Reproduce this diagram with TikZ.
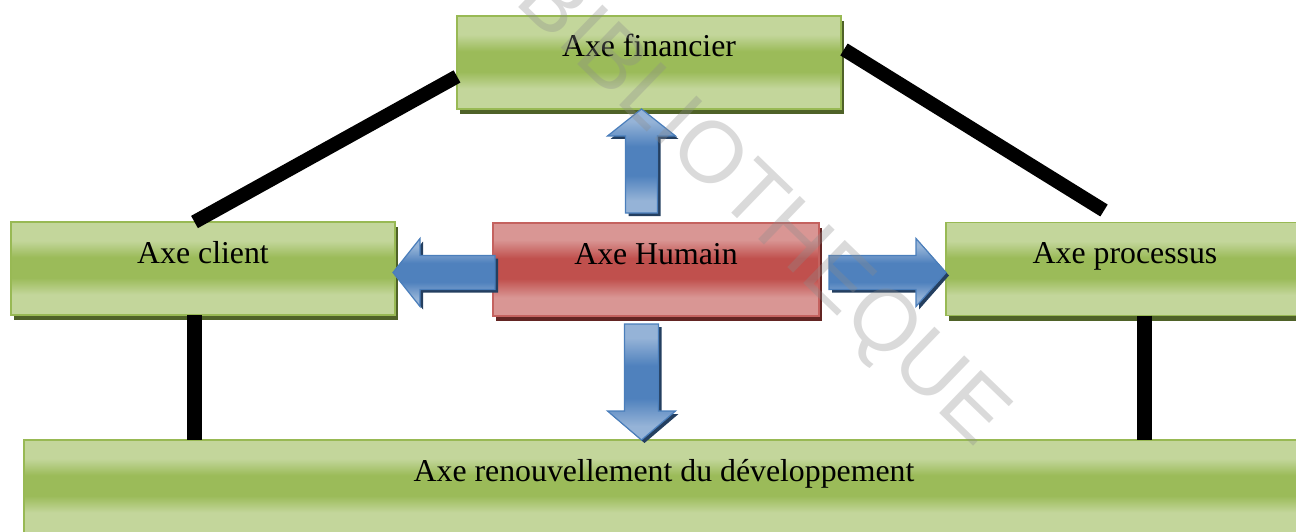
\documentclass[tikz,border=0pt]{standalone}
\usepackage{fontspec}
\setmainfont{Liberation Serif}
\newfontfamily\wmfont{Liberation Sans}
\usetikzlibrary{calc,shadows}
\definecolor{glight}{HTML}{C3D69B}
\definecolor{gdark}{HTML}{9BBB59}
\definecolor{gborder}{HTML}{98B954}
\definecolor{gshadow}{HTML}{4F6228}
\definecolor{rlight}{HTML}{D99694}
\definecolor{rdark}{HTML}{C0504D}
\definecolor{rborder}{HTML}{C4625F}
\definecolor{rshadow}{HTML}{632523}
\definecolor{blight}{HTML}{95B3D7}
\definecolor{bdark}{HTML}{4F81BD}
\definecolor{bborder}{HTML}{4A7EBB}
\definecolor{bshadow}{HTML}{243F60}
\definecolor{wmgray}{HTML}{8C8C8C}
\pgfdeclareverticalshading{greenglass}{100bp}{color(0bp)=(glight); color(36bp)=(glight); color(45bp)=(gdark); color(56bp)=(gdark); color(65bp)=(glight); color(100bp)=(glight)}
\pgfdeclareverticalshading{redglass}{100bp}{color(0bp)=(rlight); color(35bp)=(rlight); color(45bp)=(rdark); color(56bp)=(rdark); color(66bp)=(rlight); color(100bp)=(rlight)}
\pgfdeclareverticalshading{blueglass}{100bp}{color(0bp)=(blight); color(31bp)=(blight); color(43bp)=(bdark); color(57bp)=(bdark); color(69bp)=(blight); color(100bp)=(blight)}
\tikzset{
  boxbase/.style={inner sep=0pt, outer sep=0pt, line width=1.6pt,
    font=\fontsize{31.8}{38}\selectfont, text height=41pt, text depth=52pt,
    minimum height=93pt, shade},
  greenbox/.style={boxbase, shading=greenglass, draw=gborder,
    general shadow={fill=gshadow, shadow xshift=3pt, shadow yshift=-5pt}},
  redbox/.style={boxbase, shading=redglass, draw=rborder,
    general shadow={fill=rshadow, shadow xshift=3pt, shadow yshift=-5pt}},
  blockarrow/.style={shade, shading=blueglass, draw=bborder, line width=1.2pt,
    line join=miter,
    general shadow={fill=bshadow, shadow xshift=3pt, shadow yshift=-3pt}},
  link/.style={line width=14pt, black, line cap=butt},
  vlink/.style={line width=15pt, black, line cap=butt},
}
\begin{document}
\begin{tikzpicture}[x=1pt,y=-1pt]
\useasboundingbox (0,0) rectangle (1296,532);

% boxes
\node[greenbox, minimum width=384pt] (fin) at (649,62.5) {Axe financier};
\node[greenbox, minimum width=384pt] (cli) at (203,268.5) {Axe client};
\node[redbox, minimum width=326pt] (hum) at (656,269.5) {Axe Humain};
\node[greenbox, minimum width=358pt] (pro) at (1125,269) {Axe processus};
\node[greenbox, minimum width=1280pt] (ren) at (664,486.5) {Axe renouvellement du d\'eveloppement};

% black links
\draw[link] ($(fin.north west)!0.65!(fin.south west)$) -- ($(cli.north)+(-8.5,0)$);
\draw[link] ($(fin.north east)!0.36!(fin.south east)+(3,0)$) -- ($(pro.north)+(-21,-12)$);
\draw[vlink] ($(cli.south)+(-9,0)$) coordinate (l1) -- (l1 |- ren.north);
\draw[vlink] ($(pro.south)+(19,0)$) coordinate (r1) -- (r1 |- ren.north);

% blue block arrows
\coordinate (ax) at (641.5,0);
\coordinate (ay) at (0,272.5);
\path[blockarrow] (ax |- fin.south) -- ++(34,27) -- ++(-18,0) -- ++(0,77)
  -- ++(-32,0) -- ++(0,-77) -- ++(-18,0) -- cycle;
\path[blockarrow] (ax |- ren.north) -- ++(34,-29) -- ++(-17,0) -- ++(0,-87)
  -- ++(-34,0) -- ++(0,87) -- ++(-17,0) -- cycle;
\path[blockarrow] ($(cli.east |- ay)+(-2,0)$) -- ++(27,-34) -- ++(0,17) -- ++(75,0)
  -- ++(0,34) -- ++(-75,0) -- ++(0,17) -- cycle;
\path[blockarrow] (pro.west |- ay) -- ++(-30,-34) -- ++(0,17) -- ++(-87,0)
  -- ++(0,34) -- ++(87,0) -- ++(0,17) -- cycle;

% watermark
\node[rotate=-44, text=wmgray, text opacity=0.32, inner sep=0pt,
  font=\wmfont\fontsize{87}{87}\selectfont] (wm) at (760,210) {BIBLIOTHEQUE};
\end{tikzpicture}
\end{document}
